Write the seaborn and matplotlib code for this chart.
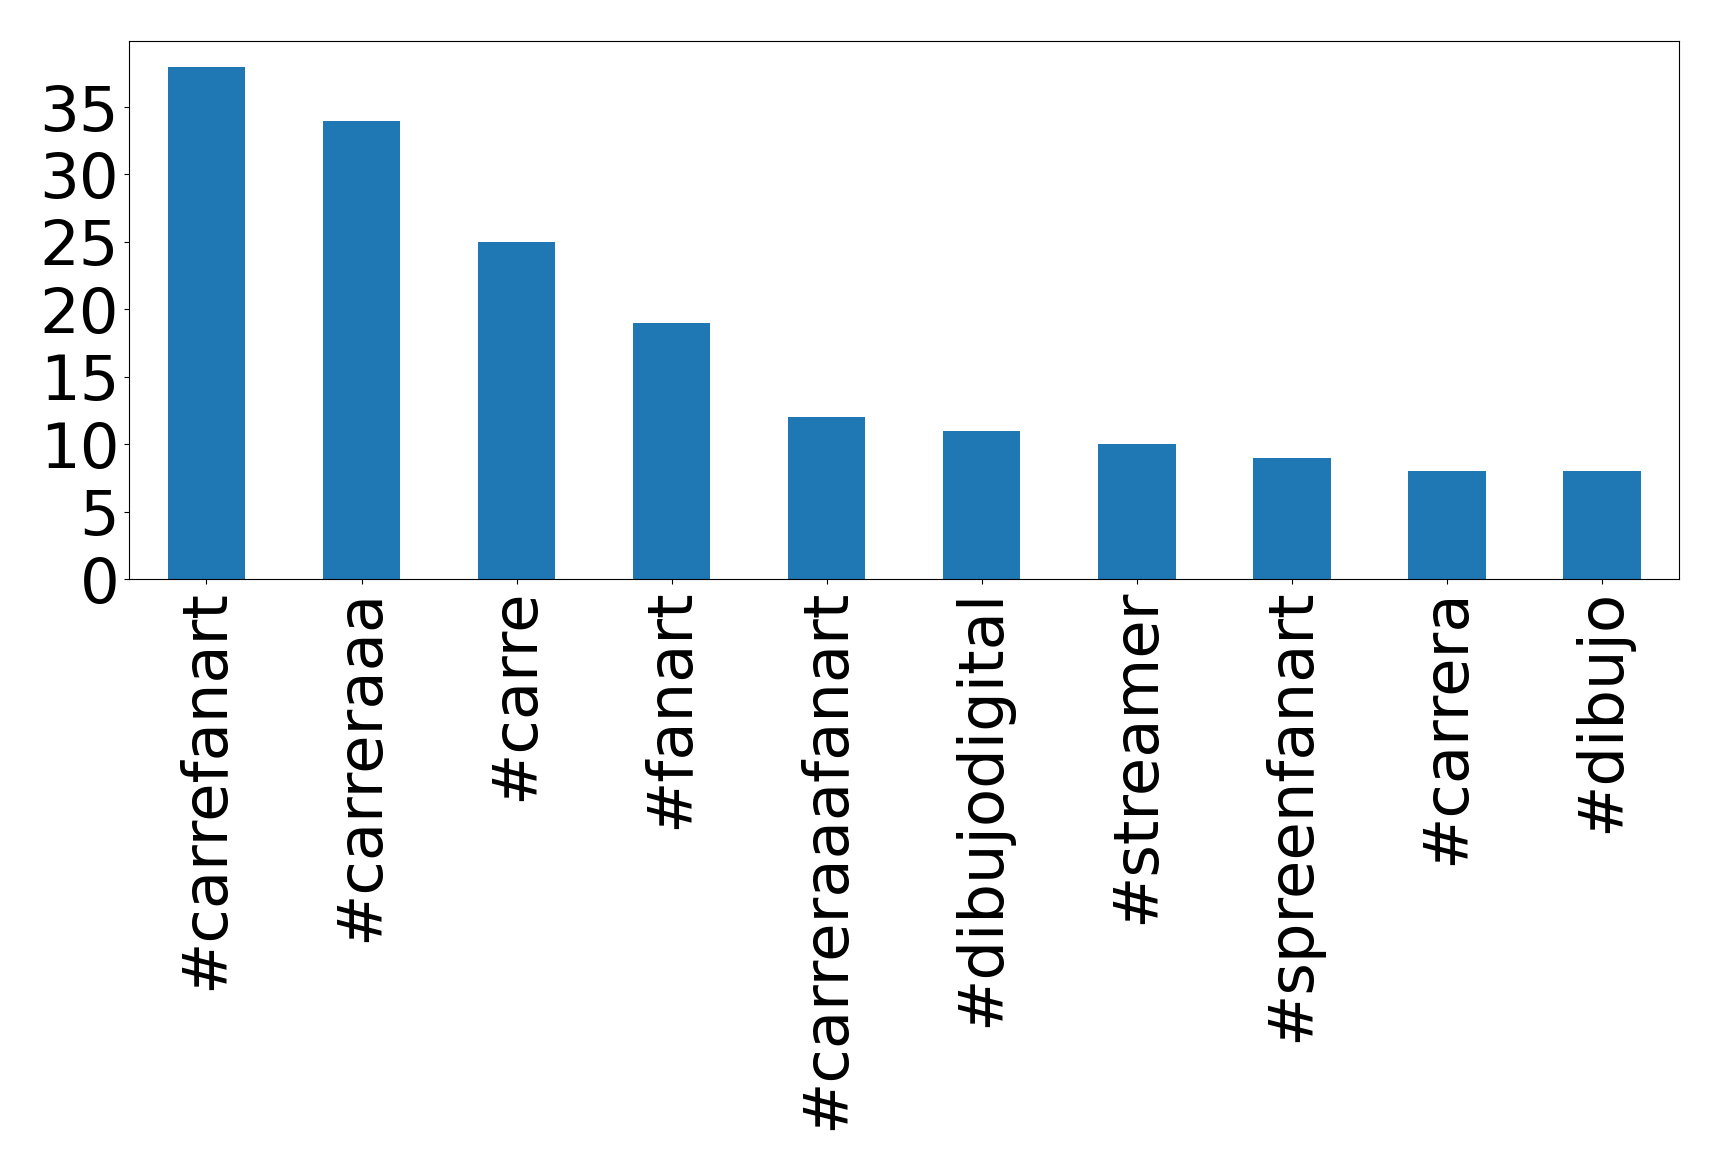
import matplotlib
matplotlib.use("Agg")
import matplotlib.pyplot as plt
import seaborn as sns
import pandas as pd

# hashtag counts
hashtags = ["#carrefanart", "#carreraaa", "#carre", "#fanart", "#carreraaafanart",
            "#dibujodigital", "#streamer", "#spreenfanart", "#carrera", "#dibujo"]
counts = [38, 34, 25, 19, 12, 11, 10, 9, 8, 8]
yticks = [0, 5, 10, 15, 20, 25, 30, 35]

df = pd.DataFrame({"hashtag": hashtags, "count": counts})

fig, ax = plt.subplots(figsize=(17.19, 11.70), dpi=100)
sns.barplot(data=df, x="hashtag", y="count", color="#1f77b4", saturation=1,
            width=0.5, ax=ax)
ax.set_xlim(-0.5, len(hashtags) - 0.5)
ax.set_ylim(0, max(counts) * 1.05)
ax.set_yticks(yticks)
ax.set_xlabel("")
ax.set_ylabel("")
ax.tick_params(axis="both", labelsize=45)
ax.tick_params(axis="x", labelrotation=90)
plt.subplots_adjust(left=0.075, right=0.977, top=0.965, bottom=0.505)
fig.savefig("out.png", dpi=100)
